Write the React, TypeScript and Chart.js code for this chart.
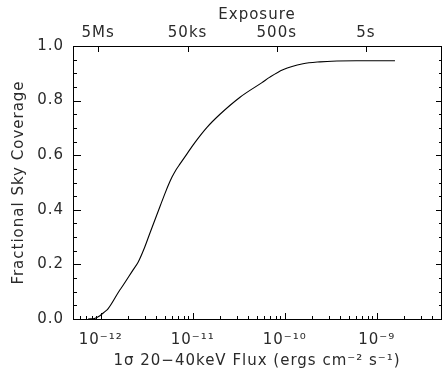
import React, { useEffect, useRef } from "react";
import { Chart, registerables } from "chart.js";

Chart.register(...registerables);

// Curve: flux (ergs cm^-2 s^-1) vs fractional sky coverage
const fluxValues = [
  7.3e-13, 8.7e-13, 9.8e-13, 1.11e-12, 1.2e-12, 1.62e-12, 1.71e-12, 2.25e-12,
  2.55e-12, 3.0e-12, 3.44e-12, 4.41e-12, 5.0e-12, 5.4e-12, 5.96e-12, 6.6e-12,
  7.28e-12, 8.67e-12, 1.06e-11, 1.43e-11, 1.98e-11, 3.27e-11, 5.66e-11, 6.9e-11,
  9.56e-11, 1.58e-10, 2.42e-10, 3.7e-10, 6e-10, 1.58e-9,
];
const coverageValues = [
  0.0, 0.003, 0.012, 0.027, 0.037, 0.107, 0.118, 0.18,
  0.208, 0.262, 0.316, 0.412, 0.46, 0.488, 0.52, 0.547,
  0.568, 0.605, 0.647, 0.702, 0.75, 0.8125, 0.866, 0.886,
  0.913, 0.935, 0.942, 0.945, 0.946, 0.946,
];

// Bottom axis (flux) ticks
const bottomTickValues = [1e-12, 1e-11, 1e-10, 1e-9];
const bottomTickLabels = ["10⁻¹²", "10⁻¹¹", "10⁻¹⁰", "10⁻⁹"];

// Top axis (exposure) ticks, placed at equivalent flux
const topTickValues = [9.4e-13, 8.8e-12, 8.2e-11, 7.65e-10];
const topTickLabels = ["5Ms", "50ks", "500s", "5s"];

// Y axis ticks
const yTickValues = [0, 0.2, 0.4, 0.6, 0.8, 1.0];

const X_MIN = 5e-13;
const X_MAX = 5e-9;
const TEXT = "#2a2a2a";

export default function App() {
  const ref = useRef<HTMLCanvasElement>(null);

  useEffect(() => {
    document.body.style.margin = "0";
    const canvas = ref.current!;

    const spacingPlugin = {
      id: "letterSpacing",
      beforeUpdate(chart: any) {
        chart.ctx.letterSpacing = "1px";
      },
      beforeDraw(chart: any) {
        chart.ctx.letterSpacing = "1px";
      },
    };

    const tickPlugin = {
      id: "inwardTicks",
      afterDraw(chart: any) {
        const { ctx, chartArea: a, scales } = chart;
        ctx.save();
        ctx.strokeStyle = "#000";
        ctx.lineWidth = 1;
        const line = (x1: number, y1: number, x2: number, y2: number) => {
          ctx.beginPath();
          ctx.moveTo(x1, y1);
          ctx.lineTo(x2, y2);
          ctx.stroke();
        };
        const xs = scales.x;
        for (let d = -13; d <= -9; d++) {
          for (let m = 1; m <= 9; m++) {
            const v = m * Math.pow(10, d);
            if (v < X_MIN * 0.999 || v > X_MAX * 1.001) continue;
            const px = Math.round(xs.getPixelForValue(v)) + 0.5;
            const len = m === 1 ? 6 : 3;
            line(px, a.bottom, px, a.bottom - len);
          }
        }
        const xt = scales.x2;
        topTickValues.forEach((v) => {
          const px = Math.round(xt.getPixelForValue(v)) + 0.5;
          line(px, a.top, px, a.top + 6);
        });
        const yl = scales.y;
        for (let i = 0; i <= 20; i++) {
          const v = i * 0.05;
          const py = Math.round(yl.getPixelForValue(v)) + 0.5;
          const major = i % 4 === 0;
          line(a.left, py, a.left + (major ? 8 : 4), py);
          line(a.right, py, a.right - (major ? 5 : 2), py);
        }
        ctx.restore();
      },
    };

    Chart.defaults.font.family = "'DejaVu Sans'";
    Chart.defaults.font.size = 15;
    Chart.defaults.color = TEXT;

    const chart = new Chart(canvas, {
      type: "line",
      data: {
        datasets: [
          {
            data: fluxValues.map((x, i) => ({ x, y: coverageValues[i] })),
            borderColor: "#000",
            borderWidth: 1.1,
            pointRadius: 0,
            fill: false,
            cubicInterpolationMode: "monotone",
            xAxisID: "x",
            yAxisID: "y",
          },
        ],
      },
      options: {
        responsive: false,
        animation: false,
        layout: { padding: 0 },
        plugins: { legend: { display: false }, tooltip: { enabled: false } },
        scales: {
          x: {
            type: "logarithmic",
            position: "bottom",
            min: X_MIN,
            max: X_MAX,
            afterBuildTicks: (s: any) => {
              s.ticks = bottomTickValues.map((v) => ({ value: v, major: true }));
            },
            afterFit: (s: any) => {
              s.height = 52;
            },
            ticks: {
              autoSkip: false,
              maxRotation: 0,
              minRotation: 0,
              padding: 12,
              color: TEXT,
              callback: (_v: any, i: number) => bottomTickLabels[i],
            },
            grid: { display: false, drawTicks: false },
            border: { display: true, color: "#000", width: 1 },
            title: {
              display: true,
              text: "1σ 20−40keV Flux (ergs cm⁻² s⁻¹)",
              color: TEXT,
              padding: { top: 0, bottom: 1 },
            },
          },
          x2: {
            type: "logarithmic",
            position: "top",
            min: X_MIN,
            max: X_MAX,
            afterBuildTicks: (s: any) => {
              s.ticks = topTickValues.map((v) => ({ value: v }));
            },
            afterFit: (s: any) => {
              s.height = 46;
            },
            ticks: {
              autoSkip: false,
              maxRotation: 0,
              minRotation: 0,
              padding: 4,
              color: TEXT,
              callback: (_v: any, i: number) => topTickLabels[i],
            },
            grid: { display: false, drawTicks: false },
            border: { display: true, color: "#000", width: 1 },
            title: {
              display: true,
              text: "Exposure",
              color: TEXT,
              padding: { top: 6, bottom: 0 },
            },
          },
          y: {
            type: "linear",
            position: "left",
            min: 0,
            max: 1,
            afterBuildTicks: (s: any) => {
              s.ticks = yTickValues.map((v) => ({ value: v }));
            },
            afterFit: (s: any) => {
              s.width = 73;
            },
            ticks: {
              padding: 9,
              color: TEXT,
              callback: (v: any) => Number(v).toFixed(1),
            },
            grid: { display: false, drawTicks: false },
            border: { display: true, color: "#000", width: 1 },
            title: {
              display: true,
              text: "Fractional Sky Coverage",
              color: TEXT,
              padding: { top: 10, bottom: 0 },
            },
          },
          y2: {
            type: "linear",
            position: "right",
            min: 0,
            max: 1,
            afterFit: (s: any) => {
              s.width = 2;
            },
            ticks: { display: false },
            grid: { display: false, drawTicks: false },
            border: { display: true, color: "#000", width: 1 },
          },
        },
      },
      plugins: [spacingPlugin, tickPlugin],
    } as any);

    return () => chart.destroy();
  }, []);

  return (
    <div style={{ position: "absolute", left: 0, top: 0, width: 443, height: 371, background: "#fff" }}>
      <canvas ref={ref} width={443} height={371} style={{ width: 443, height: 371, display: "block" }} />
    </div>
  );
}
